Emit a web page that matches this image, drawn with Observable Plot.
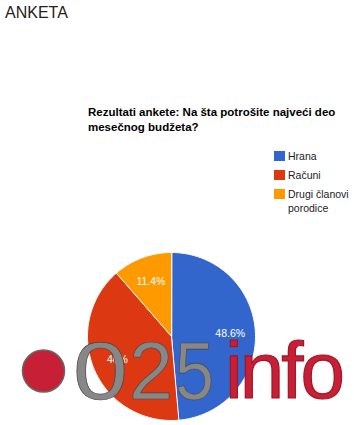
<!DOCTYPE html>
<html>
<head>
<meta charset="utf-8">
<script src="https://cdn.jsdelivr.net/npm/d3@7"></script>
<script src="https://cdn.jsdelivr.net/npm/@observablehq/plot@0.6"></script>
<style>
  html, body { margin: 0; padding: 0; background: #fff; }
  #wrap { position: relative; width: 354px; height: 425px; overflow: hidden; font-family: "Liberation Sans", Arial, sans-serif; }
  #wrap > * { position: absolute; }
  #page-title { left: 5px; top: 3px; font-size: 16px; color: #222; line-height: 20px; }
  #chart-title { left: 88px; top: 105px; width: 262px; font-size: 11.5px; font-weight: bold; line-height: 15px; color: #000; }
  #legend { left: 274px; top: 149px; width: 80px; font-size: 10.5px; color: #222; }
  .li { position: relative; padding-left: 14px; line-height: 14px; margin-bottom: 5px; }
  .sw { position: absolute; left: 0; top: 2px; width: 11px; height: 10px; }
  #plot { left: 0; top: 0; }
  #logo { left: 0; top: 0; pointer-events: none; }
</style>
</head>
<body>
<div id="wrap">
  <div id="page-title">ANKETA</div>
  <div id="chart-title"></div>
  <div id="legend"></div>
  <div id="plot"></div>
  <svg id="logo" width="354" height="425"></svg>
</div>
<script>
const pageTitle = "ANKETA";
const chartTitle = "Rezultati ankete: Na šta potrošite najveći deo mesečnog budžeta?";
const categories = ["Hrana", "Računi", "Drugi članovi porodice"];
const values = [48.6, 40, 11.4];
const labels = ["48.6%", "40%", "11.4%"];
const colors = ["#3366cc", "#dc3912", "#ff9900"];
const logoDigits = "025";
const logoWord = "info";

document.getElementById("page-title").textContent = pageTitle;
document.getElementById("chart-title").textContent = chartTitle;
const legend = document.getElementById("legend");
categories.forEach((c, i) => {
  const d = document.createElement("div");
  d.className = "li";
  const s = document.createElement("span");
  s.className = "sw";
  s.style.background = colors[i];
  d.appendChild(s);
  d.appendChild(document.createTextNode(c));
  legend.appendChild(d);
});

// Build slice polygons from the values (clockwise from 12 o'clock)
const total = d3.sum(values);
const slices = [];
const labelPts = [];
let acc = 0;
categories.forEach((c, i) => {
  const a0 = acc / total * 2 * Math.PI;
  acc += values[i];
  const a1 = acc / total * 2 * Math.PI;
  const n = Math.max(2, Math.ceil((a1 - a0) / (Math.PI / 180)));
  slices.push({name: c, x: 0, y: 0});
  for (let k = 0; k <= n; k++) {
    const a = a0 + (a1 - a0) * k / n;
    slices.push({name: c, x: Math.sin(a), y: Math.cos(a)});
  }
  const am = (a0 + a1) / 2;
  labelPts.push({name: c, label: labels[i], x: 0.7 * Math.sin(am), y: 0.7 * Math.cos(am)});
});

const cx = 171, cy = 336, R = 84;
const chart = Plot.plot({
  width: 354,
  height: 425,
  style: {background: "transparent", overflow: "visible"},
  x: {domain: [-1, 1], range: [cx - R, cx + R], axis: null},
  y: {domain: [-1, 1], range: [cy + R, cy - R], axis: null},
  color: {domain: categories, range: colors},
  marks: [
    Plot.line(slices, {x: "x", y: "y", z: "name", fill: "name", stroke: "white", strokeWidth: 1, curve: "linear-closed"}),
    Plot.text(labelPts, {x: "x", y: "y", text: "label", fill: "white", fontSize: 10.5, fontFamily: "Liberation Sans, Arial, sans-serif"})
  ]
});
document.getElementById("plot").appendChild(chart);

// logo watermark
const logo = d3.select("#logo");
logo.append("circle").attr("cx", 43.5).attr("cy", 371).attr("r", 21)
  .attr("fill", "#c61f36").attr("stroke", "#666").attr("stroke-width", 1.5);
const digitX = [73, 129, 175];
const digitW = [55, 44, 39];
logoDigits.split("").forEach((ch, i) => {
  logo.append("text").attr("x", digitX[i]).attr("y", 399).text(ch)
    .attr("font-family", "Liberation Sans, Arial, sans-serif").attr("font-size", 82)
    .attr("textLength", digitW[i]).attr("lengthAdjust", "spacingAndGlyphs")
    .attr("fill", "#878787").attr("stroke", "#444").attr("stroke-width", 0.6);
});
logo.append("text").attr("x", 225).attr("y", 398).text(logoWord)
  .attr("font-family", "Liberation Sans, Arial, sans-serif").attr("font-size", 80)
  .attr("letter-spacing", -3)
  .attr("fill", "#c61f36").attr("stroke", "#a01528").attr("stroke-width", 1.2);
</script>
</body>
</html>
